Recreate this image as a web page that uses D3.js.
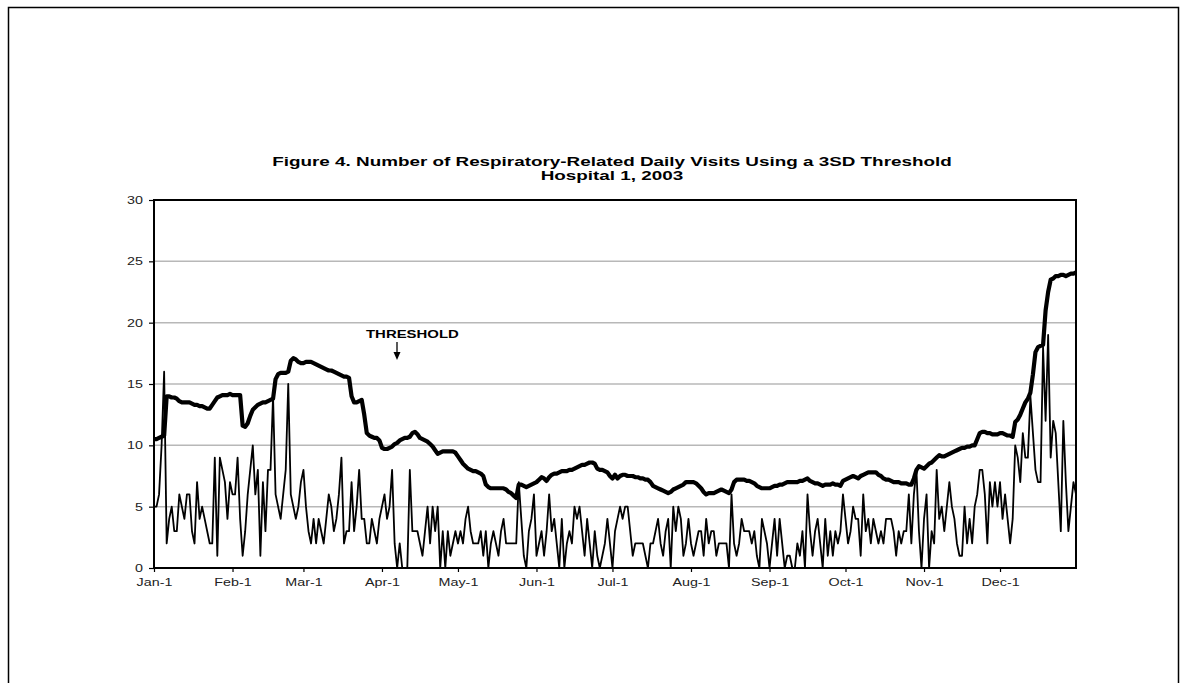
<!DOCTYPE html>
<html>
<head>
<meta charset="utf-8">
<script src="https://cdn.jsdelivr.net/npm/d3@7"></script>
<style>
  body { margin: 0; background: #fff; }
  text { font-family: Arial, "Liberation Sans", sans-serif; }
</style>
</head>
<body>
<div class="chart"></div>
<script>
var svgWidth = 1187;
var svgHeight = 683;

var margin = { top: 200, left: 154 };
var width = 922;
var height = 368;

// month tick positions (day of year) and labels
var monthStarts = [0, 31, 59, 90, 120, 151, 181, 212, 243, 273, 304, 334];
var monthLabels = ["Jan-1", "Feb-1", "Mar-1", "Apr-1", "May-1", "Jun-1",
                   "Jul-1", "Aug-1", "Sep-1", "Oct-1", "Nov-1", "Dec-1"];
var yTicks = [0, 5, 10, 15, 20, 25, 30];

// daily respiratory-related visits, Jan 1 .. Dec 31
var visits = [
  5, 5, 6, 10, 16, 2, 4, 5, 3, 3,
  6, 5, 4, 6, 6, 3, 2, 7, 4, 5,
  4, 3, 2, 2, 9, 1, 9, 8, 7, 4,
  7, 6, 6, 9, 4, 1, 3, 6, 8, 10,
  6, 8, 1, 7, 3, 8, 8, 14, 6, 5,
  4, 6, 8, 15, 6, 5, 4, 5, 7, 8,
  5, 3, 2, 4, 2, 4, 3, 2, 4, 6,
  5, 3, 4, 6, 9, 2, 3, 3, 7, 3,
  5, 8, 4, 4, 2, 2, 4, 3, 2, 4,
  5, 6, 4, 5, 8, 2, 0, 2, 0, 0,
  0, 8, 3, 3, 3, 2, 1, 3, 5, 2,
  5, 3, 5, 0, 3, 0, 3, 1, 2, 3,
  2, 3, 2, 4, 5, 3, 2, 2, 2, 3,
  1, 3, 0, 2, 3, 2, 1, 3, 4, 2,
  2, 2, 2, 2, 7, 4, 1, 0, 3, 4,
  6, 1, 2, 3, 1, 3, 6, 3, 4, 2,
  0, 4, 0, 2, 3, 2, 5, 4, 5, 3,
  1, 4, 2, 0, 3, 1, 0, 1, 2, 4,
  2, 0, 3, 4, 5, 4, 5, 5, 3, 1,
  2, 2, 2, 2, 1, 0, 2, 2, 3, 4,
  2, 1, 3, 4, 0, 5, 3, 5, 4, 1,
  2, 4, 2, 1, 2, 3, 3, 1, 4, 2,
  3, 3, 1, 2, 2, 2, 2, 0, 6, 2,
  1, 2, 4, 3, 3, 3, 2, 3, 1, 0,
  4, 3, 2, 0, 2, 4, 1, 4, 2, 0,
  1, 1, 0, 0, 2, 1, 3, 0, 6, 3,
  1, 3, 4, 2, 0, 4, 1, 3, 1, 3,
  2, 3, 6, 4, 2, 3, 5, 4, 4, 1,
  6, 3, 4, 2, 4, 3, 2, 3, 2, 4,
  4, 4, 3, 1, 3, 2, 3, 3, 6, 2,
  6, 8, 3, 0, 4, 6, 0, 3, 2, 8,
  4, 5, 3, 5, 7, 5, 4, 2, 1, 1,
  5, 2, 4, 2, 5, 6, 8, 8, 6, 2,
  7, 5, 7, 5, 7, 4, 6, 4, 2, 4,
  10, 9, 7, 11, 9, 9, 14, 11, 8, 7,
  7, 18, 12, 19, 9, 12, 11, 7, 3, 12,
  7, 3, 5, 7, 6
];

// 3SD threshold, Jan 1 .. Dec 31
var threshold = [
  10.5, 10.5, 10.6, 10.7, 10.8, 14.0, 14.0, 13.9, 13.9, 13.8,
  13.6, 13.5, 13.5, 13.5, 13.5, 13.4, 13.3, 13.3, 13.2, 13.2,
  13.1, 13.0, 13.0, 13.3, 13.6, 13.9, 14.0, 14.1, 14.1, 14.1,
  14.2, 14.1, 14.1, 14.1, 14.1, 11.6, 11.5, 11.8, 12.4, 12.9,
  13.1, 13.3, 13.4, 13.5, 13.5, 13.6, 13.7, 13.8, 15.4, 15.8,
  15.9, 15.9, 15.9, 16.0, 16.9, 17.1, 17.0, 16.8, 16.7, 16.7,
  16.8, 16.8, 16.8, 16.7, 16.6, 16.5, 16.4, 16.3, 16.2, 16.1,
  16.1, 16.0, 15.9, 15.8, 15.7, 15.6, 15.6, 15.5, 14.0, 13.5,
  13.5, 13.6, 13.7, 12.5, 11.0, 10.8, 10.7, 10.6, 10.6, 10.4,
  9.8, 9.7, 9.7, 9.8, 9.9, 10.1, 10.2, 10.4, 10.5, 10.6,
  10.6, 10.7, 11.0, 11.1, 10.9, 10.6, 10.5, 10.4, 10.3, 10.1,
  9.9, 9.6, 9.3, 9.4, 9.5, 9.5, 9.5, 9.5, 9.5, 9.4,
  9.1, 8.8, 8.5, 8.3, 8.1, 8.0, 7.9, 7.9, 7.8, 7.7,
  7.5, 6.8, 6.6, 6.5, 6.5, 6.5, 6.5, 6.5, 6.5, 6.4,
  6.2, 6.1, 5.9, 5.7, 6.8, 6.8, 6.7, 6.6, 6.7, 6.8,
  6.9, 7.0, 7.2, 7.4, 7.3, 7.1, 7.4, 7.6, 7.7, 7.7,
  7.8, 7.9, 7.9, 7.9, 8.0, 8.0, 8.1, 8.2, 8.3, 8.4,
  8.4, 8.5, 8.6, 8.6, 8.5, 8.1, 8.0, 8.0, 7.9, 7.8,
  7.5, 7.3, 7.6, 7.3, 7.5, 7.6, 7.6, 7.5, 7.5, 7.5,
  7.4, 7.4, 7.3, 7.3, 7.2, 7.2, 7.0, 6.7, 6.6, 6.5,
  6.4, 6.3, 6.2, 6.1, 6.2, 6.4, 6.5, 6.6, 6.7, 6.8,
  7.0, 7.0, 7.0, 7.0, 6.9, 6.7, 6.5, 6.2, 6.0, 6.1,
  6.1, 6.1, 6.2, 6.3, 6.4, 6.3, 6.2, 6.1, 6.4, 7.0,
  7.2, 7.2, 7.2, 7.2, 7.1, 7.1, 7.0, 6.9, 6.7, 6.6,
  6.5, 6.5, 6.5, 6.5, 6.6, 6.7, 6.7, 6.8, 6.8, 6.9,
  7.0, 7.0, 7.0, 7.0, 7.0, 7.1, 7.1, 7.2, 7.3, 7.1,
  7.0, 6.9, 6.9, 6.8, 6.7, 6.8, 6.8, 6.8, 6.9, 6.8,
  6.8, 6.7, 7.1, 7.2, 7.3, 7.4, 7.5, 7.4, 7.3, 7.5,
  7.6, 7.7, 7.8, 7.8, 7.8, 7.8, 7.6, 7.5, 7.3, 7.2,
  7.2, 7.1, 7.0, 7.0, 7.0, 6.9, 6.9, 6.9, 6.8, 6.8,
  7.3, 8.0, 8.3, 8.2, 8.1, 8.3, 8.5, 8.6, 8.8, 9.0,
  9.2, 9.1, 9.1, 9.2, 9.3, 9.4, 9.5, 9.6, 9.7, 9.8,
  9.8, 9.9, 9.9, 10.0, 10.0, 10.5, 11.0, 11.1, 11.1, 11.0,
  11.0, 10.9, 10.9, 10.9, 11.0, 11.0, 10.9, 10.8, 10.8, 10.7,
  11.9, 12.1, 12.5, 13.0, 13.5, 13.8, 14.3, 15.8, 17.6, 18.0,
  18.1, 18.2, 21.0, 22.5, 23.5, 23.6, 23.8, 23.8, 23.9, 23.9,
  23.8, 23.9, 24.0, 24.0, 24.1
];

// the source figure is stretched sideways, so widen text to match
function stretch(sel, k) {
  sel.each(function() {
    var w = this.getComputedTextLength();
    d3.select(this).attr("textLength", w * k).attr("lengthAdjust", "spacingAndGlyphs");
  });
}

var svg = d3.select(".chart")
  .append("svg")
  .attr("width", svgWidth)
  .attr("height", svgHeight);

// outer frame of the page
svg.append("rect")
  .attr("x", 8.5).attr("y", 7.5)
  .attr("width", 1170).attr("height", 700)
  .attr("fill", "none")
  .attr("stroke", "#000")
  .attr("stroke-width", 1.5);

var t1 = svg.append("text")
  .attr("x", 612).attr("y", 166)
  .attr("text-anchor", "middle")
  .style("font-size", "13px").style("font-weight", "bold")
  .text("Figure 4. Number of Respiratory-Related Daily Visits Using a 3SD Threshold");
var t2 = svg.append("text")
  .attr("x", 612).attr("y", 180)
  .attr("text-anchor", "middle")
  .style("font-size", "13px").style("font-weight", "bold")
  .text("Hospital 1, 2003");
stretch(t1, 1.45);
stretch(t2, 1.45);

var chart = svg.append("g")
  .attr("transform", "translate(" + margin.left + "," + margin.top + ")");

var xScale = d3.scaleLinear().domain([0, 364]).range([0, width]);
var yScale = d3.scaleLinear().domain([0, 30]).range([height, 0]);

// gridlines
chart.append("g")
  .selectAll("line")
  .data(yTicks.filter(function(d) { return d > 0 && d < 30; }))
  .enter().append("line")
    .attr("x1", 0).attr("x2", width)
    .attr("y1", function(d) { return yScale(d); })
    .attr("y2", function(d) { return yScale(d); })
    .attr("stroke", "#b8b8b8")
    .attr("stroke-width", 1.5);

var leftAxis = d3.axisLeft(yScale).tickValues(yTicks).tickSize(5).tickPadding(6);
var bottomAxis = d3.axisBottom(xScale).tickValues(monthStarts).tickSize(4).tickPadding(6)
  .tickFormat(function(d, i) { return monthLabels[i]; });

var yAxisG = chart.append("g").call(leftAxis);
var xAxisG = chart.append("g").attr("transform", `translate(0, ${height})`).call(bottomAxis);

[yAxisG, xAxisG].forEach(function(g) {
  g.select(".domain").remove();
  g.selectAll("text").style("font-size", "11px").attr("fill", "#222");
  g.selectAll(".tick line").attr("stroke", "#000").attr("stroke-width", 1.2);
  stretch(g.selectAll("text"), 1.3);
});

var line = d3.line()
  .x(function(d, i) { return xScale(i); })
  .y(function(d) { return yScale(d); });

chart.append("path")
  .datum(visits)
  .attr("d", line)
  .attr("fill", "none")
  .attr("stroke", "#000")
  .attr("stroke-width", 1.8)
  .attr("stroke-linejoin", "round");

chart.append("path")
  .datum(threshold)
  .attr("d", line)
  .attr("fill", "none")
  .attr("stroke", "#000")
  .attr("stroke-width", 4.2)
  .attr("stroke-linejoin", "round");

// plot area border
chart.append("rect")
  .attr("x", 0).attr("y", 0)
  .attr("width", width).attr("height", height)
  .attr("fill", "none")
  .attr("stroke", "#000")
  .attr("stroke-width", 2);

// THRESHOLD annotation with arrow
var ann = svg.append("g");
var annText = ann.append("text")
  .attr("x", 366).attr("y", 338)
  .style("font-size", "10.5px").style("font-weight", "bold")
  .text("THRESHOLD");
stretch(annText, 1.42);
ann.append("line")
  .attr("x1", 397).attr("x2", 397)
  .attr("y1", 342).attr("y2", 355)
  .attr("stroke", "#000").attr("stroke-width", 1.3);
ann.append("path")
  .attr("d", "M393.5,352 L397,360 L400.5,352 Z")
  .attr("fill", "#000");
</script>
</body>
</html>
